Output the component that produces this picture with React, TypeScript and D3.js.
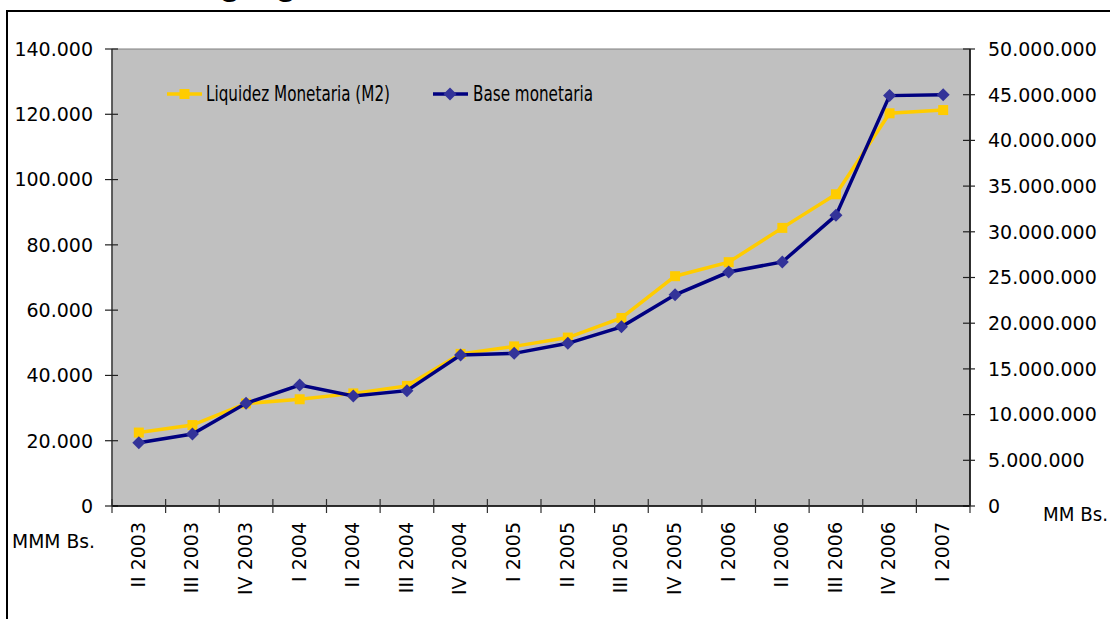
import React from "react";
import * as d3 from "d3";

const categories = [
  "II 2003", "III 2003", "IV 2003", "I 2004", "II 2004", "III 2004", "IV 2004",
  "I 2005", "II 2005", "III 2005", "IV 2005", "I 2006", "II 2006", "III 2006",
  "IV 2006", "I 2007",
];
const liquidezM2 = [
  22500, 24800, 31400, 32700, 34500, 36800, 46600, 48900, 51600, 57600,
  70400, 74700, 85200, 95500, 120300, 121300,
];
const baseMonetaria = [
  6930000, 7880000, 11240000, 13240000, 12040000, 12620000, 16520000, 16700000,
  17800000, 19600000, 23100000, 25600000, 26700000, 31800000, 44900000, 45000000,
];
const leftTicks = [0, 20000, 40000, 60000, 80000, 100000, 120000, 140000];
const rightTicks = [0, 5e6, 10e6, 15e6, 20e6, 25e6, 30e6, 35e6, 40e6, 45e6, 50e6];
const seriesNames = ["Liquidez Monetaria (M2)", "Base monetaria"];

const W = 1110;
const H = 619;
const plot = { left: 112, right: 970, top: 49, bottom: 506 };
const FONT = "'DejaVu Sans', Verdana, sans-serif";

const loc = d3.formatLocale({ decimal: ",", thousands: ".", grouping: [3], currency: ["", ""] });
const fmt = loc.format(",");

export default function App() {
  const x = d3.scaleBand<string>().domain(categories).range([plot.left, plot.right]);
  const yL = d3.scaleLinear().domain([0, 140000]).range([plot.bottom, plot.top]);
  const yR = d3.scaleLinear().domain([0, 50e6]).range([plot.bottom, plot.top]);
  const cx = (c: string) => (x(c) as number) + x.bandwidth() / 2;

  const lineL = d3.line<number>().x((_, i) => cx(categories[i])).y((d) => yL(d));
  const lineR = d3.line<number>().x((_, i) => cx(categories[i])).y((d) => yR(d));

  const yellow = "#FFCC00";
  const navy = "#000080";
  const diamondFill = "#333399";

  const diamond = (px: number, py: number, r: number) =>
    `M${px},${py - r}L${px + r},${py}L${px},${py + r}L${px - r},${py}Z`;

  const boundaries = d3.range(categories.length + 1).map((i) => plot.left + i * x.bandwidth());

  return (
    <svg width={W} height={H} style={{ position: "absolute", left: 0, top: 0, background: "#fff" }}>
      <text x={193} y={-6} fontFamily="'Liberation Sans', Arial, sans-serif" fontWeight="bold" fontSize={36}>
        Agregados Monetarios
      </text>
      <rect x={7} y={11} width={1130} height={640} fill="white" stroke="black" strokeWidth={2} />
      <rect
        x={plot.left}
        y={plot.top}
        width={plot.right - plot.left}
        height={plot.bottom - plot.top}
        fill="#C0C0C0"
        stroke="#808080"
        strokeWidth={1}
      />
      {/* left axis */}
      <line x1={plot.left} x2={plot.left} y1={plot.top} y2={plot.bottom} stroke="#404040" strokeWidth={1.5} />
      {leftTicks.map((t) => (
        <g key={"l" + t}>
          <line x1={plot.left - 7} x2={plot.left + 6} y1={yL(t)} y2={yL(t)} stroke="#202020" strokeWidth={1.2} />
          <text x={93} y={yL(t)} dy="0.36em" textAnchor="end" fontFamily={FONT} fontSize={19} fill="#000">
            {fmt(t)}
          </text>
        </g>
      ))}
      {/* right axis */}
      <line x1={plot.right} x2={plot.right} y1={plot.top} y2={plot.bottom} stroke="#000" strokeWidth={1.5} />
      {rightTicks.map((t) => (
        <g key={"r" + t}>
          <line x1={plot.right - 7} x2={plot.right + 5} y1={yR(t)} y2={yR(t)} stroke="#202020" strokeWidth={1.2} />
          <text x={988} y={yR(t)} dy="0.36em" textAnchor="start" fontFamily={FONT} fontSize={19} fill="#000">
            {fmt(t)}
          </text>
        </g>
      ))}
      {/* bottom axis */}
      <line x1={plot.left} x2={plot.right} y1={plot.bottom} y2={plot.bottom} stroke="#000" strokeWidth={1.5} />
      {boundaries.map((b, i) => (
        <line key={"b" + i} x1={b} x2={b} y1={plot.bottom - 7} y2={plot.bottom + 7} stroke="#303030" strokeWidth={1.2} />
      ))}
      {categories.map((c) => (
        <text
          key={c}
          transform={`translate(${cx(c) - 1},522) rotate(-90)`}
          dy="0.36em"
          textAnchor="end"
          fontFamily={FONT}
          fontSize={19}
          fill="#000"
        >
          {c}
        </text>
      ))}
      <text x={12} y={541} dy="0.36em" fontFamily={FONT} fontSize={19} textLength={83} lengthAdjust="spacingAndGlyphs">
        MMM Bs.
      </text>
      <text x={1043} y={514} dy="0.36em" fontFamily={FONT} fontSize={19} textLength={65} lengthAdjust="spacingAndGlyphs">
        MM Bs.
      </text>

      {/* series */}
      <path d={lineL(liquidezM2) || ""} fill="none" stroke={yellow} strokeWidth={3.5} />
      {liquidezM2.map((v, i) => (
        <rect key={"m" + i} x={cx(categories[i]) - 5} y={yL(v) - 5} width={10} height={10} fill={yellow} />
      ))}
      <path d={lineR(baseMonetaria) || ""} fill="none" stroke={navy} strokeWidth={3.5} />
      {baseMonetaria.map((v, i) => (
        <path key={"d" + i} d={diamond(cx(categories[i]), yR(v), 6.5)} fill={diamondFill} />
      ))}

      {/* legend */}
      <line x1={167} x2={202} y1={94} y2={94} stroke={yellow} strokeWidth={3.5} />
      <rect x={179.5} y={89} width={10} height={10} fill={yellow} />
      <text x={206} y={94} dy="0.36em" fontFamily={FONT} fontSize={20.5} textLength={184} lengthAdjust="spacingAndGlyphs">
        {seriesNames[0]}
      </text>
      <line x1={433} x2={468} y1={94} y2={94} stroke={navy} strokeWidth={3.5} />
      <path d={diamond(450, 94, 6.5)} fill={diamondFill} />
      <text x={473} y={94} dy="0.36em" fontFamily={FONT} fontSize={20.5} textLength={120} lengthAdjust="spacingAndGlyphs">
        {seriesNames[1]}
      </text>
    </svg>
  );
}
